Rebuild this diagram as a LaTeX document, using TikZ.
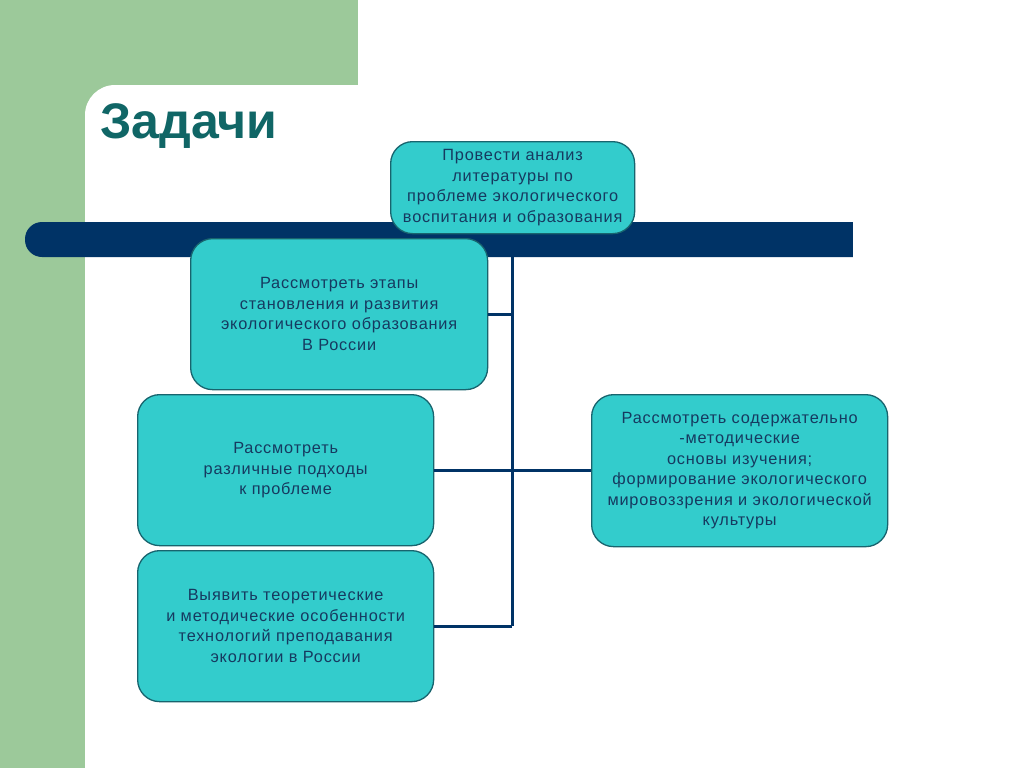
\documentclass[tikz,border=0pt]{standalone}
\usepackage{fontspec}
\setmainfont{Liberation Sans}
\newfontfamily\boxfont[LetterSpace=5]{Liberation Sans}
\usetikzlibrary{calc}
\definecolor{bggreen}{RGB}{156,201,154}
\definecolor{navy}{RGB}{0,51,102}
\definecolor{boxfill}{RGB}{51,204,204}
\definecolor{boxline}{RGB}{24,100,110}
\definecolor{boxtext}{RGB}{22,58,96}
\definecolor{titlecol}{RGB}{16,102,102}
\tikzset{
  task/.style={draw=boxline, line width=1.3pt, fill=boxfill, rounded corners=22pt,
    align=center, text=boxtext, font=\boxfont\fontsize{16.3}{20.5}\selectfont,
    inner sep=0pt, anchor=north west},
  link/.style={draw=navy, line width=3pt}
}
\begin{document}
\begin{tikzpicture}[x=1pt,y=-1pt]
\useasboundingbox (0,0) rectangle (1024,768);
\fill[white] (0,0) rectangle (1024,768);
% green background
\fill[bggreen] (0,0) rectangle (358,768);
\fill[white, rounded corners=30pt] (85,85) rectangle (1100,850);
\fill[white] (358,0) rectangle (1024,85);
% title
\node[anchor=base west, text=titlecol, font=\bfseries\fontsize{50}{60}\selectfont, inner sep=0pt] (title) at (100,138) {Задачи};
% bar
\fill[navy, rounded corners=17pt] (25,222) rectangle (900,257);
\fill[navy] (800,222) rectangle (853,257);
\fill[white] (853,215) rectangle (1024,265);
% trunk
\coordinate (trunktop) at (512,250);
\coordinate (trunkbot) at (512,626);
\draw[link] (trunktop) -- (trunkbot);
% boxes
\node[task, minimum width=244pt, minimum height=92pt] (b1) at (390,141) {Провести анализ\\литературы по\\проблеме экологического\\воспитания и образования};
\node[task, minimum width=297pt, minimum height=151pt] (b2) at (190,238) {Рассмотреть этапы\\становления и развития\\экологического образования\\В России};
\node[task, minimum width=296pt, minimum height=151pt] (b3) at (137,394) {Рассмотреть\\различные подходы\\к проблеме};
\node[task, minimum width=296pt, minimum height=151pt] (b4) at (137,550) {Выявить теоретические\\и методические особенности\\технологий преподавания\\экологии в России};
\node[task, minimum width=296pt, minimum height=152pt] (b5) at (591,394) {Рассмотреть содержательно\\-методические\\основы изучения;\\формирование экологического\\мировоззрения и экологической\\культуры};
% branches
\draw[link] (b2.east) -- (b2.east -| trunkbot);
\draw[link] (b3.east) -- (b3.east -| b5.west);
\draw[link] (b4.east) -- (b4.east -| trunkbot);
\end{tikzpicture}
\end{document}
